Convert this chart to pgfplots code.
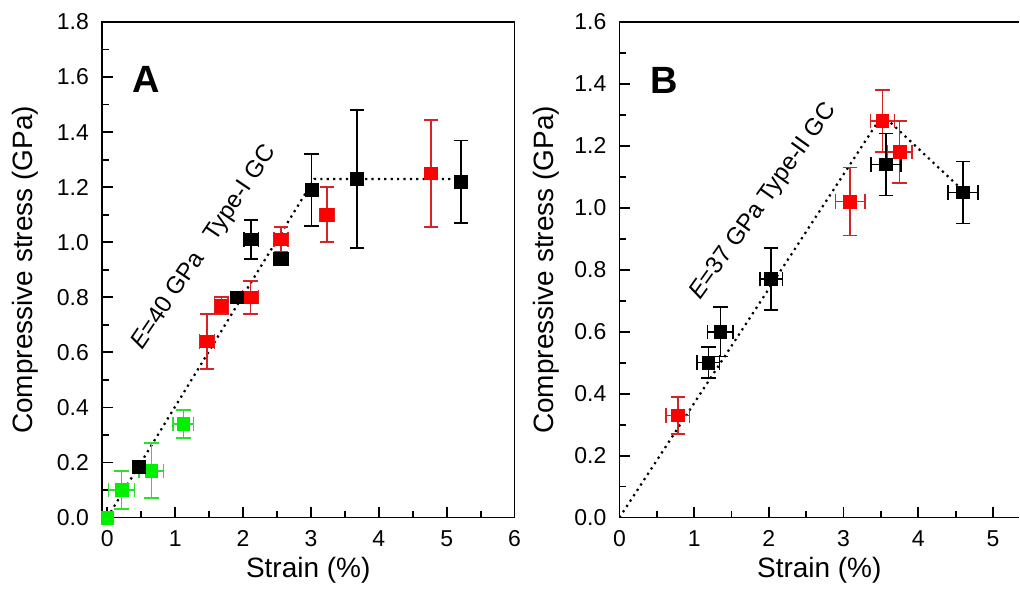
\documentclass[border=0pt]{standalone}
\usepackage{fontspec}
\setmainfont{Liberation Sans}
\usepackage{pgfplots}
\pgfplotsset{compat=1.18}
\definecolor{gcred}{RGB}{255,0,0}
\definecolor{gcredbar}{RGB}{215,35,35}
\definecolor{gcgreen}{RGB}{0,240,0}
\definecolor{gcgreenbar}{RGB}{40,225,40}

\pgfplotsset{
  gcaxis/.style={
    scale only axis, anchor=south west, height=248pt,
    tick label style={font=\fontsize{11.5}{13}\selectfont},
    /pgf/number format/assume math mode=true,
    label style={font=\fontsize{14}{16}\selectfont},
    axis line style={line width=0.9pt},
    tick style={line width=0.9pt, black},
    tick align=inside,
    major tick length=5.5pt, minor tick length=3.5pt,
    minor x tick num=1, minor y tick num=1,
    yticklabel style={xshift=-3pt, /pgf/number format/.cd, fixed, fixed zerofill, precision=1},
    xticklabel style={yshift=-3pt},
    xlabel style={at={(axis description cs:0.5,0)}, anchor=center, yshift=-26.5pt},
    ylabel={Compressive stress (GPa)},
    xlabel={Strain (\%)},
  },
  pts/.style={only marks, mark=square*, mark size=3.2pt, color=#1},
  ebxy/.style={error bars/.cd, x dir=both, x explicit, y dir=both, y explicit},
  eby/.style={error bars/.cd, y dir=both, y explicit},
  ebx/.style={error bars/.cd, x dir=both, x explicit},
  bars/.style={
    error bars/error bar style={line width=0.8pt, color=#1},
    error bars/error mark options={rotate=90, mark size=3.6pt, line width=0.8pt, color=#1}},
  fit/.style={black, line width=1.1pt, dash pattern=on 1.1pt off 2.1pt, mark=none},
}

\begin{document}
\begin{tikzpicture}
\path (0,0) rectangle (510pt,298pt);

% ---------------- panel A
\begin{axis}[gcaxis, at={(51pt,39pt)}, width=206.5pt,
  xmin=-0.08, xmax=6, ymin=0, ymax=1.8,
  xtick={0,1,...,6}, ytick={0,0.2,...,1.8},
  xtick pos=left, ytick pos=left,
  ylabel style={at={(axis description cs:-0.185,0.5)}, anchor=center},
]
\addplot[fit] coordinates {(0,0) (3.05,1.23) (5.3,1.23)};

\addplot[pts=gcgreen] coordinates {(0,0)};
\addplot[pts=gcgreen, bars=gcgreenbar, ebxy] table[x=x,y=y,x error=ex,y error=ey] {
x    y    ex   ey
0.21 0.10 0.19 0.07
0.65 0.17 0.18 0.10
1.12 0.34 0.15 0.05
};

\addplot[pts=gcred, bars=gcredbar, ebxy] table[x=x,y=y,x error=ex,y error=ey] {
x    y    ex   ey
1.47 0.64 0.11 0.10
1.68 0.77 0.10 0.03
2.11 0.80 0.12 0.06
2.56 1.01 0.10 0.045
3.24 1.10 0.11 0.10
};
\addplot[pts=gcred, bars=gcredbar, eby] table[x=x,y=y,y error=ey] {
x    y    ey
4.77 1.25 0.195
};

\addplot[pts=black] coordinates {(0.46,0.185) (1.91,0.80)};
\addplot[pts=black, bars=black, ebxy] table[x=x,y=y,x error=ex,y error=ey] {
x    y    ex   ey
2.12 1.01 0.11 0.07
};
\addplot[pts=black, bars=black, ebx] table[x=x,y=y,x error=ex] {
x    y    ex
2.56 0.94 0.10
};
\addplot[pts=black, bars=black, eby] table[x=x,y=y,y error=ey] {
x    y    ey
3.01 1.19 0.13
3.68 1.23 0.25
5.21 1.22 0.15
};

\node[font=\bfseries\fontsize{19}{20}\selectfont] at (axis cs:0.57,1.59) {A};
\node[rotate=56, font=\fontsize{12}{14}\selectfont] at (axis cs:1.43,0.98)
  {\textit{E}=40 GPa\hspace{0.8em}Type-I GC};
\end{axis}

% ---------------- panel B
\begin{axis}[gcaxis, at={(310pt,39pt)}, width=200pt,
  xmin=0, xmax=5.35, ymin=0, ymax=1.6,
  xtick={0,1,...,5}, ytick={0,0.2,...,1.6},
  axis x line*=bottom, axis y line*=left, tick align=inside,
  ylabel style={at={(axis description cs:-0.1825,0.5)}, anchor=center},
]
\draw[line width=0.9pt] (rel axis cs:0,1) -- (rel axis cs:1,1);
\addplot[fit] coordinates {(0,0) (3.52,1.30) (4.58,1.06)};

\addplot[pts=gcred, bars=gcredbar, ebxy] table[x=x,y=y,x error=ex,y error=ey] {
x    y    ex   ey
0.78 0.33 0.16 0.06
3.09 1.02 0.20 0.11
3.52 1.28 0.16 0.10
3.75 1.18 0.17 0.10
};
\addplot[pts=black, bars=black, ebxy] table[x=x,y=y,x error=ex,y error=ey] {
x    y    ex   ey
1.19 0.50 0.15 0.05
1.35 0.60 0.17 0.08
2.03 0.77 0.15 0.10
3.57 1.14 0.20 0.10
4.60 1.05 0.20 0.10
};

\node[font=\bfseries\fontsize{19}{20}\selectfont] at (axis cs:0.60,1.41) {B};
\node[rotate=54.5, font=\fontsize{12}{14}\selectfont] at (axis cs:1.93,1.02)
  {\textit{E}=37 GPa Type-II GC};
\end{axis}
\end{tikzpicture}
\end{document}
